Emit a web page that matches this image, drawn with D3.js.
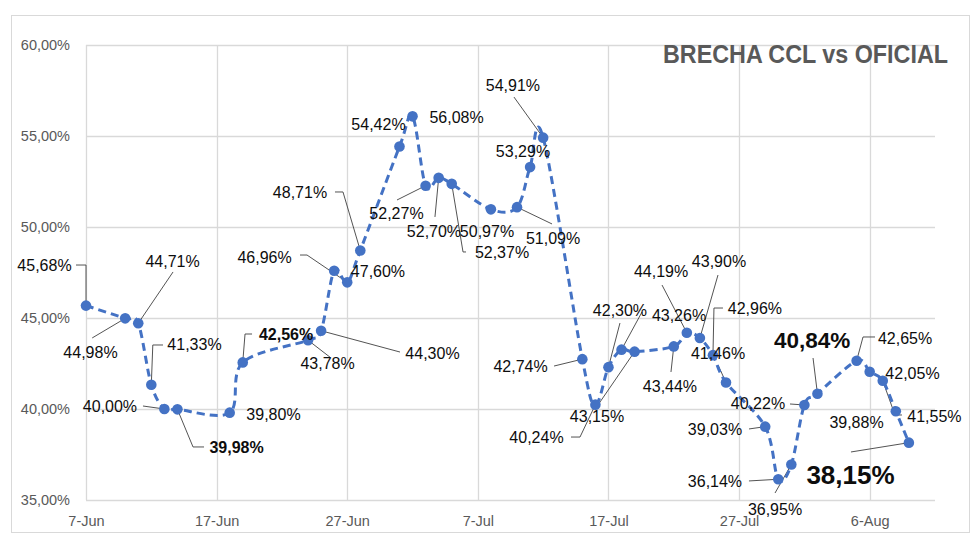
<!DOCTYPE html>
<html>
<head>
<meta charset="utf-8">
<script src="https://cdn.jsdelivr.net/npm/d3@7"></script>
<style>
  html, body { margin: 0; padding: 0; background: #fff; }
  svg { display: block; }
</style>
</head>
<body>
<svg id="chart" width="980" height="550"></svg>
<script>
// ---------------- DATA ----------------
const title = "BRECHA CCL vs OFICIAL";
const dates = [
  "2024-06-07","2024-06-10","2024-06-11","2024-06-12","2024-06-13","2024-06-14",
  "2024-06-18","2024-06-19","2024-06-24","2024-06-25","2024-06-26","2024-06-27",
  "2024-06-28","2024-07-01","2024-07-02","2024-07-03","2024-07-04","2024-07-05",
  "2024-07-08","2024-07-10","2024-07-11","2024-07-12","2024-07-15","2024-07-16",
  "2024-07-17","2024-07-18","2024-07-19","2024-07-22","2024-07-23","2024-07-24",
  "2024-07-25","2024-07-26","2024-07-29","2024-07-30","2024-07-31","2024-08-01",
  "2024-08-02","2024-08-05","2024-08-06","2024-08-07","2024-08-08","2024-08-09"
];
const brecha = [
  45.68, 44.98, 44.71, 41.33, 40.00, 39.98,
  39.80, 42.56, 43.78, 44.30, 47.60, 46.96,
  48.71, 54.42, 56.08, 52.27, 52.70, 52.37,
  50.97, 51.09, 53.29, 54.91, 42.74, 40.24,
  42.30, 43.26, 43.15, 43.44, 44.19, 43.90,
  42.96, 41.46, 39.03, 36.14, 36.95, 40.22,
  40.84, 42.65, 42.05, 41.55, 39.88, 38.15
];
const yTicks = [35, 40, 45, 50, 55, 60];
const xTicks = ["2024-06-07","2024-06-17","2024-06-27","2024-07-07","2024-07-17","2024-07-27","2024-08-06"];
const xDomain = ["2024-06-07", "2024-08-11"];

// ---------------- LAYOUT (label offsets relative to each point) ----------------
const labelLayout = [
  {dx:-41.5, dy:-40.6, leader:[[-10,-40.6],[0,-40.6]]},
  {dx:-34.7, dy:34.3,  leader:[[-33,19.6]]},
  {dx:34.3,  dy:-61.6, leader:[[34.8,-51.3]]},
  {dx:43.2,  dy:-39.8, leader:[[11.7,-39.8],[1.5,-39.8]]},
  {dx:-54.4, dy:-3,    leader:[[-21.4,-3]]},
  {dx:59.1,  dy:37.9,  leader:[[26.6,37.6],[15.6,37.6]], bold:true},
  {dx:43.8,  dy:1.4},
  {dx:43.3,  dy:-28.4, leader:[[9.3,-28.4],[2.3,-28.4]], bold:true},
  {dx:19.5,  dy:22.8,  leader:[[22,17]]},
  {dx:111.4, dy:22.3,  leader:[[78.9,21.3]]},
  {dx:43.8,  dy:1},
  {dx:-82.7, dy:-25.3, leader:[[-47.2,-27.3],[-40.2,-27.3]]},
  {dx:-60.3, dy:-57.8, leader:[[-25.3,-58.5],[-17.3,-58.5]]},
  {dx:-21,   dy:-21.6},
  {dx:44,    dy:1.4},
  {dx:-29.1, dy:28.3,  leader:[[-28.6,14.3]]},
  {dx:-4.7,  dy:54.1,  leader:[[-3.7,39.1]]},
  {dx:50.3,  dy:68.8,  leader:[[14.3,68.1],[11.3,68.1]]},
  {dx:-3.9,  dy:21.7},
  {dx:36,    dy:31.8,  leader:[[35,16.8]]},
  {dx:-7.1,  dy:-16.1},
  {dx:-30.2, dy:-52.6, leader:[[-29.2,-40.6]]},
  {dx:-61.8, dy:6.9,   leader:[[-28.3,6.9]]},
  {dx:-58.9, dy:32.4,  leader:[[-24.4,32.4],[-15.4,32.4]]},
  {dx:11.5,  dy:-57.1, leader:[[11.5,-44.1]]},
  {dx:57.5,  dy:-33.7, leader:[[20.5,-37.7]]},
  {dx:-37.6, dy:65,    leader:[[-36.6,53.3]]},
  {dx:-3.8,  dy:40.3,  leader:[[-2.8,25.6]]},
  {dx:-25.8, dy:-61,   leader:[[-24.8,-47.7]]},
  {dx:19.1,  dy:-76.3, leader:[[18.1,-63]]},
  {dx:42,    dy:-46.8, leader:[[10,-47.1],[1,-47.1]]},
  {dx:-8,    dy:-29.1, leader:[[-8,-17.4]]},
  {dx:-50.2, dy:2.6,   leader:[[-16.2,2.3]]},
  {dx:-63.3, dy:2.4,   leader:[[-29.3,1.7]]},
  {dx:-16.3, dy:44.8,  leader:[[-16.3,28.5]]},
  {dx:-46.4, dy:-1,    leader:[[-14.4,-1]]},
  {dx:-5.4,  dy:-53.7, leader:[[-4.4,-35.7]], bold:true, size:22.5},
  {dx:48.4,  dy:-22.5, leader:[[18.4,-23.8],[6.4,-23.8]]},
  {dx:42.8,  dy:1.6},
  {dx:51.7,  dy:35.9,  leader:[[19.2,34.2],[12.2,34.2]]},
  {dx:-39.3, dy:11.5},
  {dx:-58.4, dy:32.3,  leader:[[-57.9,9.3]], bold:true, size:26}
];

// ---------------- CHART ----------------
const parse = d3.timeParse("%Y-%m-%d");
const locale = d3.formatLocale({decimal: ",", thousands: ".", grouping: [3], currency: ["$", ""]});
const fmt = v => locale.format(".2f")(v) + "%";
const fmtDate = d3.timeFormat("%-d-%b");

const data = dates.map((d, i) => ({date: parse(d), value: brecha[i], lay: labelLayout[i]}));

const svg = d3.select("#chart");
const FONT = "'Liberation Sans', Arial, sans-serif";
const plot = {left: 86, right: 935, top: 45, bottom: 500};

const x = d3.scaleTime().domain(xDomain.map(parse)).range([plot.left, plot.right]);
const y = d3.scaleLinear().domain([35, 60]).range([plot.bottom, plot.top]);

// background + frame
svg.append("rect").attr("x", 0).attr("y", 0).attr("width", 980).attr("height", 550).attr("fill", "#fff");
svg.append("rect").attr("x", 11.5).attr("y", 15.5).attr("width", 958).attr("height", 517)
  .attr("fill", "#fff").attr("stroke", "#d9d9d9").attr("stroke-width", 1);

// horizontal gridlines
svg.append("g").selectAll("line").data(yTicks).join("line")
  .attr("x1", plot.left).attr("x2", plot.right)
  .attr("y1", d => Math.round(y(d)) + 0.5).attr("y2", d => Math.round(y(d)) + 0.5)
  .attr("stroke", "#d9d9d9").attr("stroke-width", 1.3);

// vertical gridlines
svg.append("g").selectAll("line").data(xTicks.map(parse)).join("line")
  .attr("x1", d => Math.round(x(d)) + 0.5).attr("x2", d => Math.round(x(d)) + 0.5)
  .attr("y1", plot.top).attr("y2", plot.bottom)
  .attr("stroke", "#d9d9d9").attr("stroke-width", 1.3);

// y axis labels
const yAxis = d3.axisLeft(y).tickValues(yTicks).tickSize(0).tickPadding(16).tickFormat(fmt);
const gy = svg.append("g").attr("transform", `translate(${plot.left},0)`).call(yAxis);
gy.select(".domain").remove();
gy.selectAll("text").attr("font-family", FONT).attr("font-size", 14.5).attr("fill", "#595959");

// x axis labels
const xAxis = d3.axisBottom(x).tickValues(xTicks.map(parse)).tickSize(0).tickPadding(16).tickFormat(fmtDate);
const gx = svg.append("g").attr("transform", `translate(0,${plot.bottom})`).call(xAxis);
gx.select(".domain").remove();
gx.selectAll("text").attr("font-family", FONT).attr("font-size", 14.5).attr("fill", "#595959");

// leader lines
svg.append("g").selectAll("path").data(data.filter(d => d.lay.leader)).join("path")
  .attr("d", d => {
    const px = x(d.date), py = y(d.value);
    const pts = d.lay.leader.map(p => [px + p[0], py + p[1]]).concat([[px, py]]);
    return d3.line()(pts);
  })
  .attr("fill", "none").attr("stroke", "#404040").attr("stroke-width", 0.9);

// series line
const line = d3.line().x(d => x(d.date)).y(d => y(d.value)).curve(d3.curveCardinal.tension(0));
svg.append("path").datum(data).attr("d", line)
  .attr("fill", "none").attr("stroke", "#4472C4").attr("stroke-width", 3)
  .attr("stroke-dasharray", "8,5");

// markers
svg.append("g").selectAll("circle").data(data).join("circle")
  .attr("cx", d => x(d.date)).attr("cy", d => y(d.value)).attr("r", 5.3)
  .attr("fill", "#4472C4");

// data labels
svg.append("g").selectAll("text").data(data).join("text")
  .attr("x", d => x(d.date) + d.lay.dx)
  .attr("y", d => y(d.value) + d.lay.dy)
  .attr("text-anchor", "middle").attr("dominant-baseline", "central")
  .attr("font-family", FONT)
  .attr("font-size", d => d.lay.size || 16)
  .attr("font-weight", d => d.lay.bold ? "bold" : "normal")
  .attr("fill", "#0d0d0d")
  .text(d => fmt(d.value));

// title
svg.append("text").attr("x", 663).attr("y", 63)
  .attr("font-family", FONT).attr("font-size", 25.5).attr("font-weight", "bold")
  .attr("fill", "#595959").attr("textLength", 285).attr("lengthAdjust", "spacingAndGlyphs")
  .text(title);
</script>
</body>
</html>
